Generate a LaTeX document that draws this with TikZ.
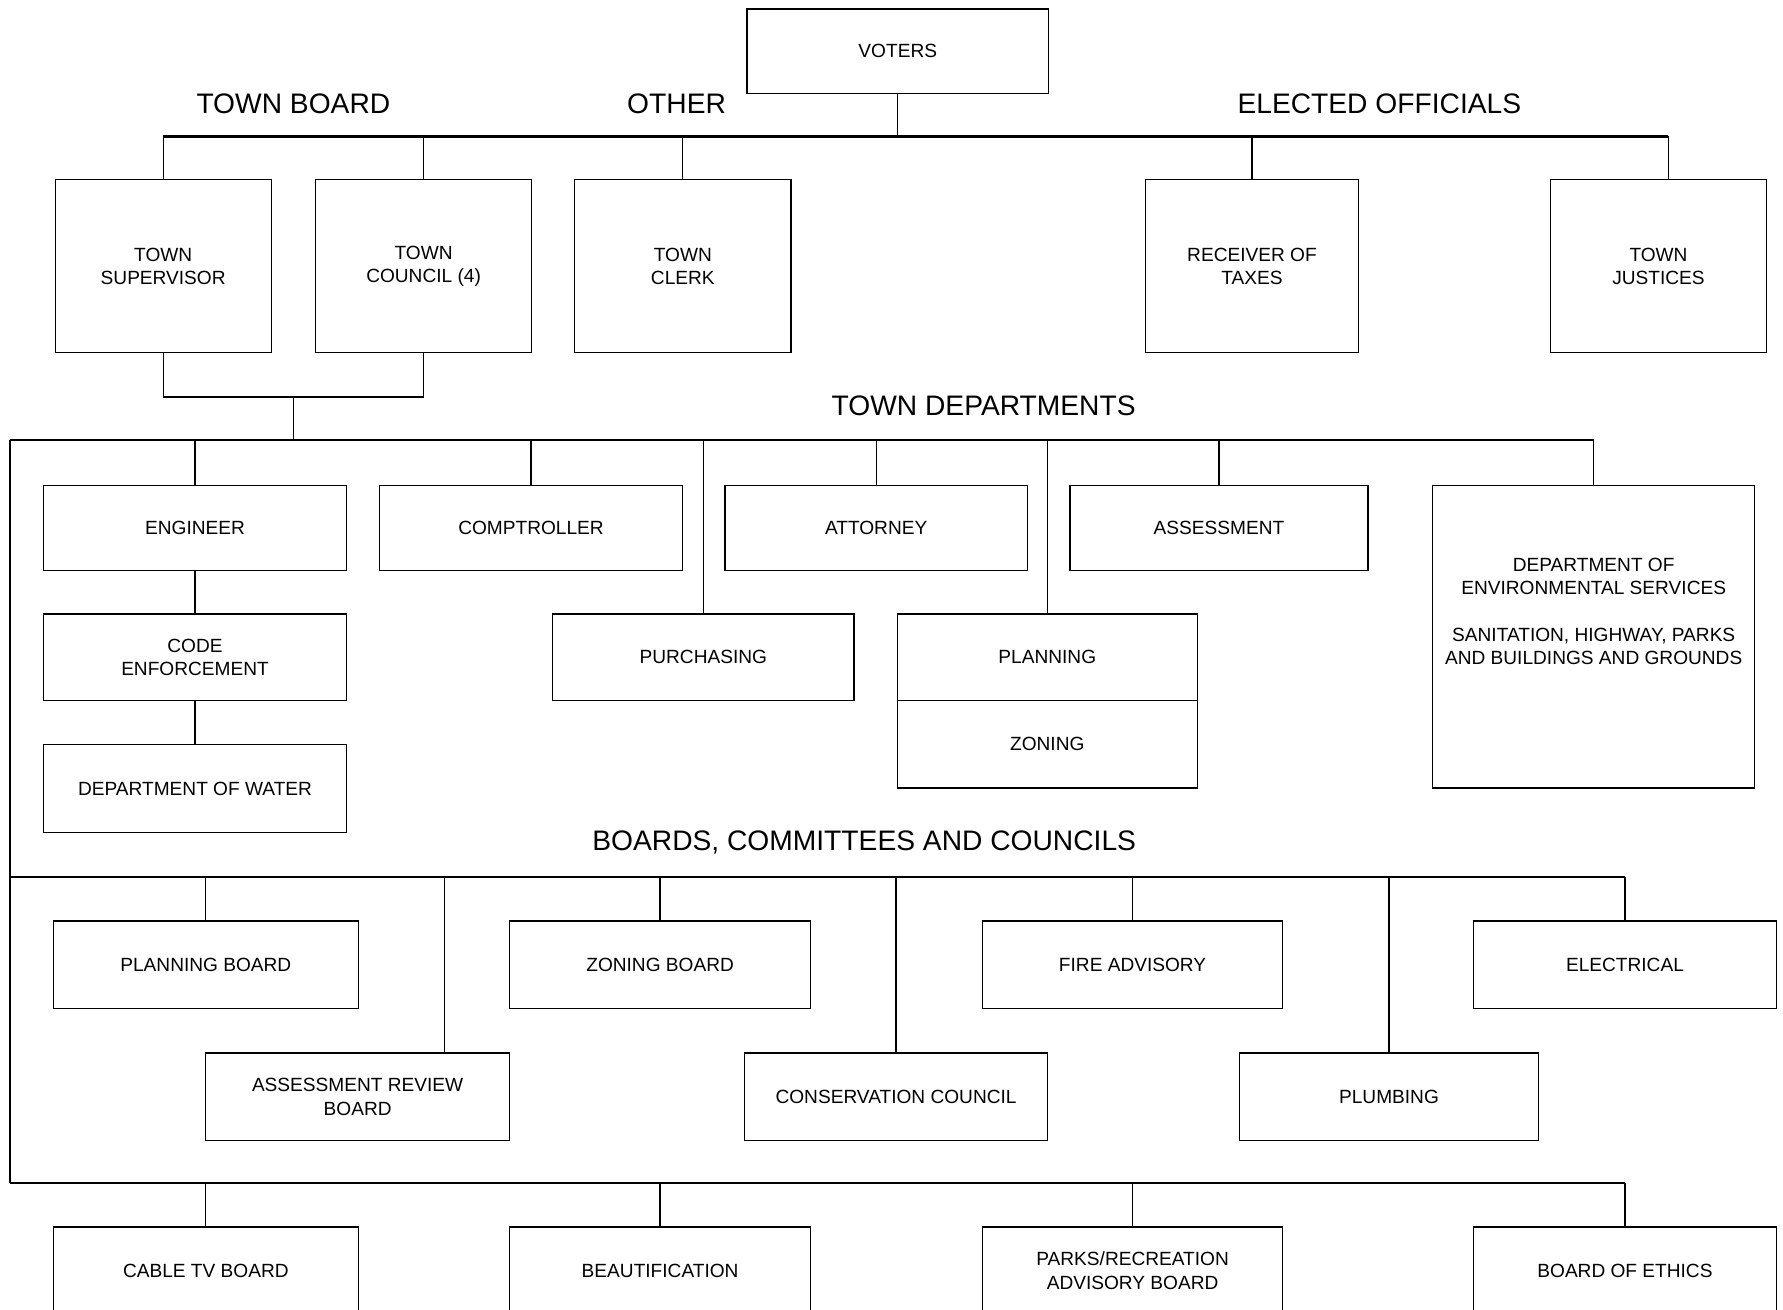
\documentclass[tikz,border=0pt]{standalone}
\usepackage{fontspec}
\setmainfont{Liberation Sans}
\usetikzlibrary{calc}
\newcommand\boxfont{\fontsize{16.8}{20.5}\selectfont}
\newcommand\headfont{\fontsize{24.8}{29}\selectfont}
\begin{document}
\begin{tikzpicture}[x=1pt,y=-1pt,
  box/.style={draw, line width=1.1pt, align=center, inner sep=0pt, font=\boxfont},
  tallbox/.style={box, minimum width=190, minimum height=152},
  widebox/.style={box, minimum width=266, minimum height=76},
  bus/.style={line width=1.9pt},
  drop/.style={line width=1.1pt},
  heading/.style={font=\headfont, inner sep=0pt}]
\useasboundingbox (0,0) rectangle (1568,1152);
\clip (0,0) rectangle (1568,1152);
\fill[white] (0,0) rectangle (1568,1152);

% top
\node[box, minimum width=265, minimum height=74] (voters) at (789.5,45) {VOTERS};
\node[heading] (hTB) at (258,91) {TOWN BOARD};
\node[heading] (hOT) at (595,91) {OTHER};
\node[heading] (hEO) at (1213,91) {ELECTED OFFICIALS};

\node[tallbox] (sup) at (143.5,234) {TOWN\\SUPERVISOR};
\node[tallbox] (coun) at (372.5,234) {TOWN\\COUNCIL (4)};
\node[tallbox] (clerk) at (600.5,234) {TOWN\\CLERK};
\node[tallbox, minimum width=187] (recv) at (1101,234) {RECEIVER OF\\TAXES};
\node[tallbox] (just) at (1458.5,234) {TOWN\\JUSTICES};

\coordinate (topbus) at (0,120);
\coordinate (justtop) at ([xshift=8.5]just.north);
\draw[drop] (voters.south) -- (voters.south |- topbus);
\draw[bus] (sup.north |- topbus) -- (justtop |- topbus);
\foreach \n in {sup,coun,clerk,recv}
  \draw[drop] (\n.north) -- (\n.north |- topbus);
\draw[drop] (justtop) -- (justtop |- topbus);

% town board join
\coordinate (tbj) at (0,349);
\draw[drop] (sup.south) -- (sup.south |- tbj);
\draw[drop] (coun.south) -- (coun.south |- tbj);
\draw[bus] (sup.south |- tbj) -- (coun.south |- tbj);
\coordinate (tbmid) at ($(sup.south |- tbj)!0.5!(coun.south |- tbj)$);

% departments
\node[heading] (hTD) at (865,357) {TOWN DEPARTMENTS};
\coordinate (depbus) at (9,387);
\coordinate (brdbus) at (9,771);
\coordinate (lowbus) at (9,1040);
\draw[drop] (tbmid) -- (tbmid |- depbus);

\node[widebox, minimum height=75] (eng) at (171.5,464.5) {ENGINEER};
\node[widebox, minimum height=75] (comp) at (467,464.5) {COMPTROLLER};
\node[widebox, minimum height=75] (att) at (770.5,464.5) {ATTORNEY};
\node[widebox, minimum height=75, minimum width=262] (assess) at (1072,464.5) {ASSESSMENT};
\node[box, minimum width=283, minimum height=266] (env) at (1401.5,560) {};
\node[font=\boxfont, align=center, inner sep=0pt] (envtxt) at ([yshift=22.5]env.center)
  {DEPARTMENT OF\\ENVIRONMENTAL SERVICES\\[20.5pt]SANITATION, HIGHWAY, PARKS\\AND BUILDINGS AND GROUNDS};
\node[widebox] (code) at (171.5,578) {CODE\\ENFORCEMENT};
\node[widebox, minimum height=77] (water) at (171.5,693.5) {DEPARTMENT OF WATER};
\node[widebox, minimum width=265] (purch) at (618.5,578) {PURCHASING};
\node[widebox, minimum width=264] (plan) at (921,578) {PLANNING};
\node[widebox, minimum width=264, minimum height=77] (zon) at (921,654.5) {ZONING};

\draw[bus] (depbus) -- (env.north |- depbus);
\draw[drop, line width=1.3pt] (depbus) -- (lowbus);
\foreach \n in {eng,comp,purch,att,plan,assess,env}
  \draw[drop] (\n.north) -- (\n.north |- depbus);
\draw[drop] (eng.south) -- (code.north);
\draw[drop] (code.south) -- (water.north);

% boards
\node[heading] (hBC) at (760,741) {BOARDS, COMMITTEES AND COUNCILS};
\node[widebox, minimum height=77, minimum width=268] (pb) at (181,848.5) {PLANNING BOARD};
\node[widebox, minimum height=77, minimum width=265] (zb) at (580.5,848.5) {ZONING BOARD};
\node[widebox, minimum height=77, minimum width=264] (fire) at (996,848.5) {FIRE ADVISORY};
\node[widebox, minimum height=77] (elec) at (1429,848.5) {ELECTRICAL};
\node[widebox, minimum height=77, minimum width=267] (arb) at (314.5,964.5) {ASSESSMENT REVIEW\\BOARD};
\node[widebox, minimum height=77] (cons) at (788,964.5) {CONSERVATION COUNCIL};
\node[widebox, minimum height=77, minimum width=263] (plumb) at (1221.5,964.5) {PLUMBING};

\coordinate (arbtop) at ([xshift=76.5]arb.north);
\draw[bus] (brdbus) -- (elec.north |- brdbus);
\foreach \n in {pb,zb,cons,fire,plumb,elec}
  \draw[drop] (\n.north) -- (\n.north |- brdbus);
\draw[drop] (arbtop) -- (arbtop |- brdbus);

% lowest row
\node[widebox, minimum height=77, minimum width=268] (cable) at (181,1117.5) {CABLE TV BOARD};
\node[widebox, minimum height=77, minimum width=265] (beaut) at (580.5,1117.5) {BEAUTIFICATION};
\node[widebox, minimum height=77, minimum width=264] (parks) at (996,1117.5) {PARKS/RECREATION\\ADVISORY BOARD};
\node[widebox, minimum height=77] (ethics) at (1429,1117.5) {BOARD OF ETHICS};

\draw[bus] (lowbus) -- (ethics.north |- lowbus);
\foreach \n in {cable,beaut,parks,ethics}
  \draw[drop] (\n.north) -- (\n.north |- lowbus);
\end{tikzpicture}
\end{document}
